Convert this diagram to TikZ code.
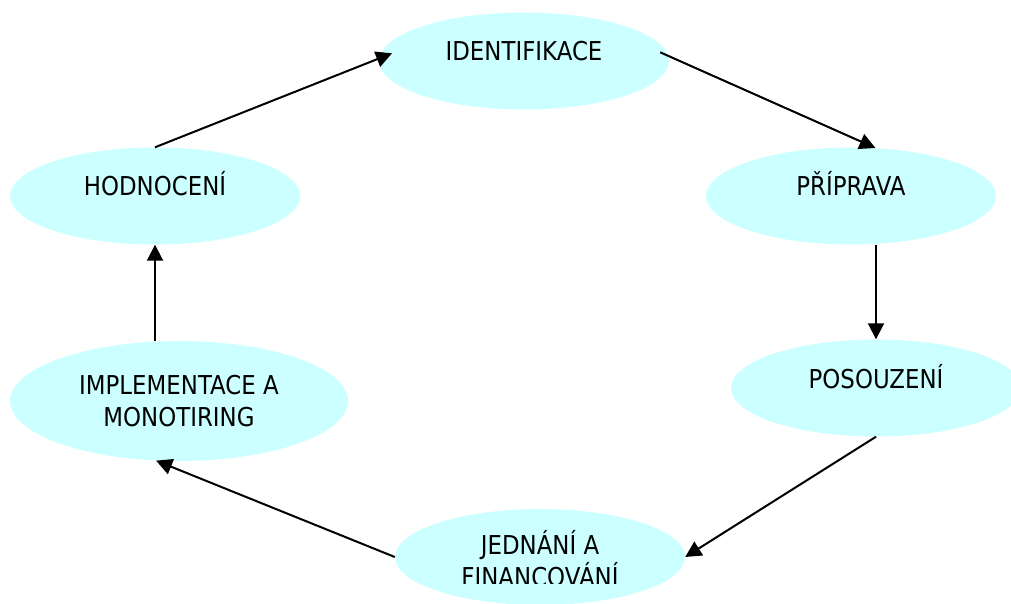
\documentclass[tikz,border=0pt]{standalone}
\usepackage{fontspec}
\setmainfont[FakeStretch=0.88]{DejaVu Sans}
\usetikzlibrary{shapes.geometric,arrows.meta}
\definecolor{stagecyan}{HTML}{CCFFFF}

\begin{document}
\begin{tikzpicture}[x=1pt,y=-1pt,
        stage/.style={ellipse,fill=stagecyan,inner sep=2pt,align=center,
            minimum width=290pt,minimum height=97pt,
            font=\fontsize{26}{32}\selectfont},
        oneline/.style={text height=19pt,text depth=19pt},
        flow/.style={line width=2pt,-{Triangle[length=16pt,width=16pt]}}]
        \useasboundingbox (0,0) rectangle (1011,604);
        \clip (0,0) rectangle (1011,604);

        \foreach \nm/\x/\y/\txt in {ident/524/61/IDENTIFIKACE,hod/155/196/HODNOCENÍ,
                prip/851/196/PŘÍPRAVA,pos/876/388/POSOUZENÍ}{
            \node[stage,oneline] (\nm) at (\x,\y) {\txt};
        }
        \node[stage,minimum width=338pt,minimum height=120pt] (impl) at (179,401) {IMPLEMENTACE A\\MONOTIRING};
        \node[stage,minimum height=96pt] (jed) at (540,557) {};
        \begin{scope}
            \clip (395,509) rectangle (685,583);
            \node[align=center,inner sep=0pt,anchor=base,font=\fontsize{26}{32}\selectfont] (jedtext) at (540,586) {JEDNÁNÍ A\\FINANCOVÁNÍ};
        \end{scope}

        \draw[flow,shorten >=-14pt] (hod.north) -- (ident.179);
        \draw[flow,shorten <=-9pt] (ident.2) -- (prip.63);
        \draw[flow] (pos.north |- prip.south) -- (pos.north);
        \draw[flow] (pos.south) -- (jed.east);
        \draw[flow] (jed.west) -- (impl.249);
        \draw[flow] (hod.south |- impl.north) -- (hod.south);
    \end{tikzpicture}
\end{document}
